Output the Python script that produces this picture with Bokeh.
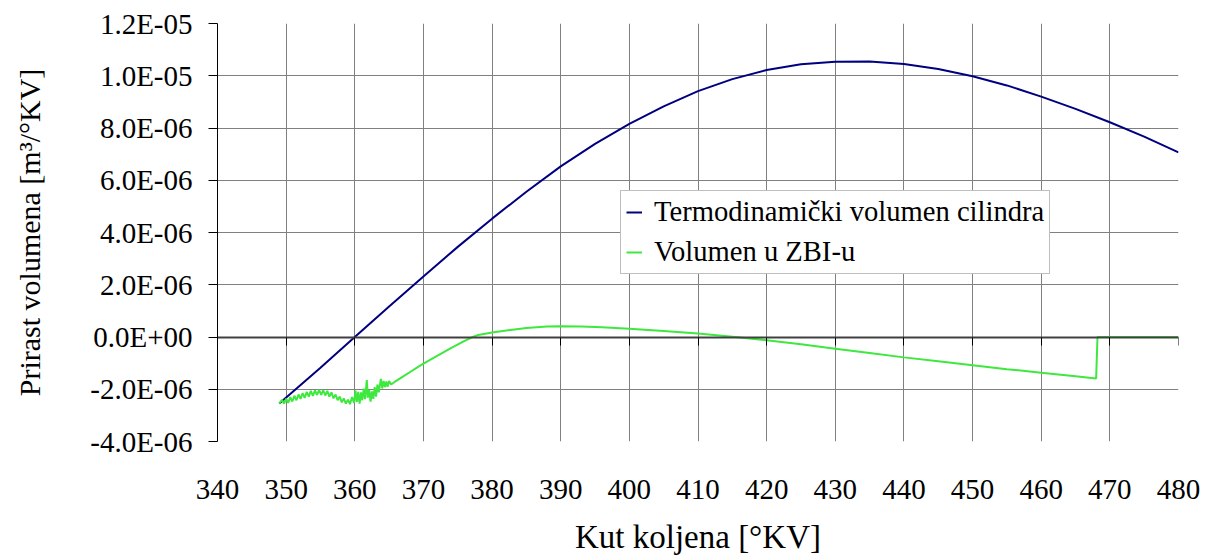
import numpy as np
from bokeh.plotting import figure
from bokeh.models import (LinearAxis, FixedTicker, CustomJSTickFormatter, Legend,
                          LegendItem, Range1d, Grid)
from bokeh.embed import file_html
from bokeh.resources import INLINE

# ---------------- data (y values in units of 1e-6 m^3/°KV) ----------------
SCALE = 1e-6
x_ticks = list(range(340, 481, 10))
y_tick_units = list(range(-4, 13, 2))

termo_x = [349, 355, 360, 365, 370, 375, 380, 385, 390, 395, 400, 405, 410, 415,
           420, 425, 430, 435, 440, 445, 450, 455, 460, 465, 470, 475, 480]
termo_y = [-2.55, -1.18, 0.0, 1.17, 2.32, 3.45, 4.53, 5.56, 6.53, 7.39, 8.16, 8.83,
           9.41, 9.87, 10.22, 10.44, 10.54, 10.55, 10.45, 10.26, 9.98, 9.63, 9.20,
           8.73, 8.22, 7.67, 7.07]

zbi_x = [349.0, 349.4, 349.7, 350.0, 350.3, 350.6, 350.9, 351.2, 351.5, 351.8,
         352.1, 352.4, 352.7, 353.0, 353.3, 353.6, 353.9, 354.2, 354.5, 354.8,
         355.1, 355.4, 355.7, 356.0, 356.3, 356.6, 356.9, 357.2, 357.5, 357.8,
         358.1, 358.4, 358.7, 359.0, 359.3, 359.6, 359.9, 360.1, 360.3, 360.5,
         360.7, 360.9, 361.1, 361.3, 361.5, 361.75, 361.9, 362.1, 362.3, 362.5,
         362.7, 362.9, 363.1, 363.3, 363.5, 363.8, 364.0, 364.2, 364.4, 364.6,
         364.8, 365.0, 365.3, 365.8, 367, 368, 369, 370, 372, 374, 376, 377, 378,
         380, 383, 385, 388, 390, 393, 396, 400, 405, 410, 415, 420, 425, 430,
         435, 440, 445, 450, 455, 460, 465, 468, 468.2, 480]
zbi_y = [-2.55, -2.40, -2.55, -2.36, -2.52, -2.30, -2.47, -2.25, -2.42, -2.20,
         -2.37, -2.15, -2.33, -2.10, -2.28, -2.06, -2.25, -2.04, -2.22, -2.02,
         -2.22, -2.03, -2.24, -2.06, -2.28, -2.12, -2.35, -2.20, -2.42, -2.28,
         -2.50, -2.35, -2.55, -2.40, -2.57, -2.30, -2.52, -2.05, -2.48, -2.10,
         -2.55, -2.12, -2.42, -1.98, -2.38, -1.65, -2.32, -2.02, -2.47, -2.08,
         -2.37, -1.92, -2.28, -1.82, -2.12, -1.60, -1.97, -1.68, -1.92, -1.70,
         -1.90, -1.68, -1.82, -1.72, -1.52, -1.35, -1.18, -1.02, -0.72, -0.43,
         -0.15, -0.02, 0.08, 0.17, 0.28, 0.34, 0.40, 0.41, 0.40, 0.37, 0.32,
         0.23, 0.13, 0.01, -0.12, -0.28, -0.45, -0.61, -0.78, -0.93, -1.08,
         -1.23, -1.37, -1.50, -1.59, 0.0, 0.0]

series_labels = ["Termodinamički volumen cilindra", "Volumen u ZBI-u"]
x_title = "Kut koljena [°KV]"
y_title = "Prirast volumena [m³/°KV]"

# ---------------- figure ----------------
FONT = "Liberation Serif"
y_ticks = [v * SCALE for v in y_tick_units]

p = figure(width=1210, height=560, output_backend="svg", toolbar_location=None,
           x_range=Range1d(x_ticks[0], x_ticks[-1]),
           y_range=Range1d(y_ticks[0], y_ticks[-1]),
           x_axis_type=None, y_axis_type=None,
           min_border_left=217, min_border_right=32, min_border_top=23,
           min_border_bottom=119)
p.outline_line_color = None
p.background_fill_color = "white"
p.border_fill_color = "white"

xt = FixedTicker(ticks=x_ticks)
yt = FixedTicker(ticks=y_ticks)

for dim, tk in ((0, xt), (1, yt)):
    g = Grid(dimension=dim, ticker=tk, grid_line_color="#808080", grid_line_width=1)
    p.add_layout(g, "center")

fmt = CustomJSTickFormatter(code="""
if (Math.abs(tick) < 1e-15) return "0.0E+00";
var e = Math.floor(Math.log10(Math.abs(tick)) + 1e-9);
var m = Math.round(tick / Math.pow(10, e) * 10) / 10;
if (Math.abs(m) >= 10) { m = m / 10; e += 1; }
var s = e < 0 ? "-" : "+";
var ae = Math.abs(e);
return m.toFixed(1) + "E" + s + (ae < 10 ? "0" : "") + ae;
""")

yaxis = LinearAxis(ticker=yt, formatter=fmt, axis_label=y_title,
                   axis_line_color="black", axis_line_width=1,
                   major_tick_line_color="black", major_tick_out=9, major_tick_in=0,
                   minor_tick_line_color=None,
                   major_label_text_font=FONT, major_label_text_font_size="29px",
                   major_label_text_color="black", major_label_standoff=16,
                   axis_label_text_font=FONT, axis_label_text_font_size="30px",
                   axis_label_text_font_style="normal", axis_label_text_color="black",
                   axis_label_standoff=41)
p.add_layout(yaxis, "left")

xaxis = LinearAxis(ticker=xt, axis_label=x_title,
                   axis_line_color=None, major_tick_line_color=None,
                   minor_tick_line_color=None,
                   major_label_text_font=FONT, major_label_text_font_size="29px",
                   major_label_text_color="black", major_label_standoff=32,
                   axis_label_text_font=FONT, axis_label_text_font_size="33px",
                   axis_label_text_font_style="normal", axis_label_text_color="black",
                   axis_label_standoff=17)
p.add_layout(xaxis, "below")

zero_axis = LinearAxis(ticker=xt, fixed_location=0,
                       axis_line_color="#404040", axis_line_width=2,
                       major_tick_line_color="black", major_tick_out=8, major_tick_in=0,
                       minor_tick_line_color=None, major_label_text_color=None,
                       level="glyph")
p.add_layout(zero_axis, "below")

r1 = p.line(termo_x, np.array(termo_y) * SCALE, line_color="#000080", line_width=2)
r2 = p.line(zbi_x, np.array(zbi_y) * SCALE, line_color="#3ee83e", line_width=2)

legend = Legend(items=[LegendItem(label=series_labels[0], renderers=[r1]),
                       LegendItem(label=series_labels[1], renderers=[r2])],
                location=(403, 167), orientation="vertical",
                label_text_font=FONT, label_text_font_size="28.6px",
                label_text_color="black", glyph_width=16, glyph_height=30,
                label_height=30, label_standoff=12, spacing=8, padding=5, margin=0,
                border_line_color="#808080", border_line_width=1,
                background_fill_color="white", background_fill_alpha=1.0)
p.add_layout(legend, "center")

open("out.html", "w").write(file_html(p, INLINE))
